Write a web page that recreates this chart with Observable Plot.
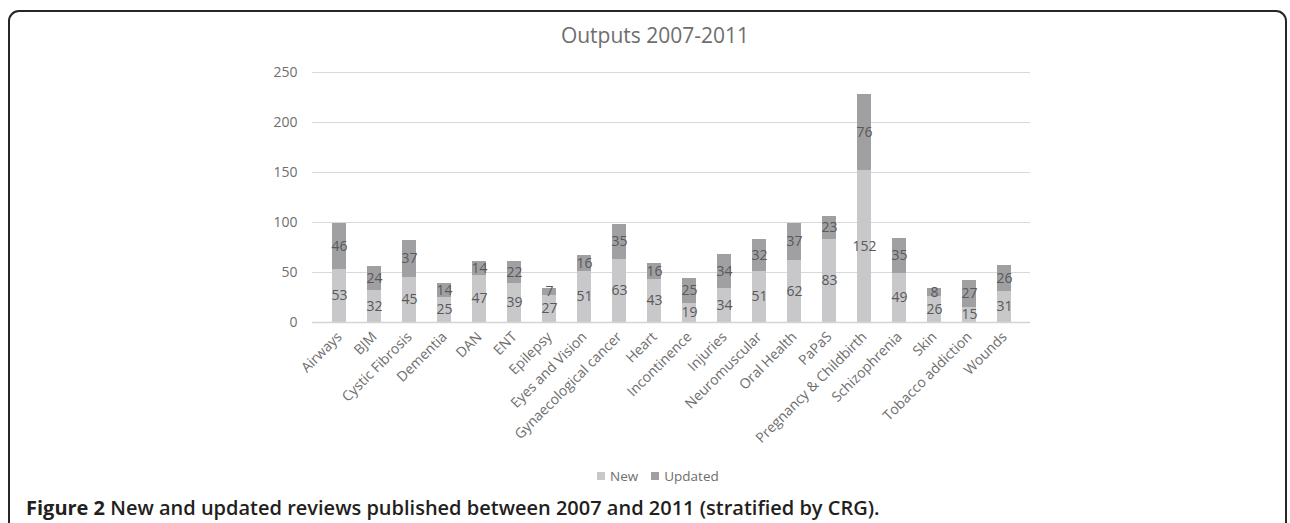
<!DOCTYPE html>
<html>
<head>
<meta charset="utf-8">
<script src="https://cdn.jsdelivr.net/npm/d3@7"></script>
<script src="https://cdn.jsdelivr.net/npm/@observablehq/plot@0.6"></script>
<style>
  html, body { margin: 0; padding: 0; background: #fff; }
  body { width: 1290px; height: 523px; overflow: hidden; position: relative; font-family: "Open Sans", sans-serif; }
  #frame { position: absolute; left: 8px; top: 10px; width: 1279px; height: 640px; border: 2px solid #262626; border-radius: 11px 11px 0 0; box-sizing: border-box; }
  #title { position: absolute; left: 0; width: 1310px; top: 25px; text-align: center; font-size: 21px; line-height: 21px; color: #6e6e6e; white-space: nowrap; }
  #title span { display: inline-block; transform-origin: center; }
  #chart { position: absolute; left: 0; top: 50px; }
  #legend { position: absolute; left: 597px; top: 467px; display: flex; align-items: center; font-size: 13.5px; line-height: 18px; color: #6e6e6e; white-space: nowrap; }
  #legend .sw { display: inline-block; width: 8px; height: 8px; margin-right: 5px; }
  #legend .item { display: flex; align-items: center; margin-right: 13px; }
  #caption { position: absolute; left: 26px; top: 496px; font-size: 20px; line-height: 24px; color: #231f20; white-space: nowrap; transform-origin: left center; }
  #caption b { font-weight: 700; }
  #caption span { font-weight: 600; }
</style>
</head>
<body>
<div id="frame"></div>
<div id="title"><span id="titleText">Outputs 2007-2011</span></div>
<div id="chart"></div>
<div id="legend"></div>
<div id="caption"><b>Figure 2</b> <span>New and updated reviews published between 2007 and 2011 (stratified by CRG).</span></div>
<script>
const categories = ["Airways", "BJM", "Cystic Fibrosis", "Dementia", "DAN", "ENT", "Epilepsy", "Eyes and Vision", "Gynaecological cancer", "Heart", "Incontinence", "Injuries", "Neuromuscular", "Oral Health", "PaPaS", "Pregnancy & Childbirth", "Schizophrenia", "Skin", "Tobacco addiction", "Wounds"];
const newValues = [53, 32, 45, 25, 47, 39, 27, 51, 63, 43, 19, 34, 51, 62, 83, 152, 49, 26, 15, 31];
const updatedValues = [46, 24, 37, 14, 14, 22, 7, 16, 35, 16, 25, 34, 32, 37, 23, 76, 35, 8, 27, 26];
const seriesNames = ["New", "Updated"];
const seriesColors = ["#c8c8ca", "#a0a0a3"];
const yTicks = [0, 50, 100, 150, 200, 250];

const table = [
  ...categories.map((c, i) => ({crg: c, type: seriesNames[0], value: newValues[i]})),
  ...categories.map((c, i) => ({crg: c, type: seriesNames[1], value: updatedValues[i]}))
];

const chart = Plot.plot({
  width: 1290,
  height: 402,
  marginTop: 22,
  marginBottom: 130,
  marginLeft: 312,
  marginRight: 260,
  style: { fontFamily: "'Open Sans', sans-serif", fontSize: "14px", color: "#6e6e6e", background: "transparent" },
  x: { domain: categories, paddingInner: 0.6, paddingOuter: 0.3, label: null },
  y: { domain: [0, 250], label: null },
  color: { domain: seriesNames, range: seriesColors },
  marks: [
    Plot.ruleY(yTicks.filter(d => d > 0), { stroke: "#d9d9d9", strokeWidth: 1 }),
    Plot.barY(table, Plot.stackY({ x: "crg", y: "value", fill: "type" })),
    Plot.text(table, Plot.stackY({ x: "crg", y: "value", text: "value", fill: "#595959", fontSize: 14 })),
    Plot.ruleY([0], { stroke: "#d4d4d4", strokeWidth: 1.5 }),
    Plot.axisY({ ticks: yTicks, tickSize: 0, tickPadding: 15, fontSize: 14, fill: "#6e6e6e", label: null }),
    Plot.axisX({ tickRotate: -45, tickSize: 0, tickPadding: 12, fontSize: 14, fill: "#6e6e6e", label: null })
  ]
});
document.getElementById("chart").appendChild(chart);

const legend = document.getElementById("legend");
seriesNames.forEach((name, i) => {
  const item = document.createElement("span");
  item.className = "item";
  const sw = document.createElement("span");
  sw.className = "sw";
  sw.style.background = seriesColors[i];
  item.appendChild(sw);
  item.appendChild(document.createTextNode(name));
  legend.appendChild(item);
});

function fit() {
  const t = document.getElementById("titleText");
  const tw = t.getBoundingClientRect().width;
  t.style.transform = `scaleX(${191 / tw})`;
  const cap = document.getElementById("caption");
  const cw = cap.getBoundingClientRect().width;
  cap.style.transform = `scaleX(${832 / cw})`;
}
fit();
if (document.fonts && document.fonts.ready) document.fonts.ready.then(fit);
</script>
</body>
</html>
